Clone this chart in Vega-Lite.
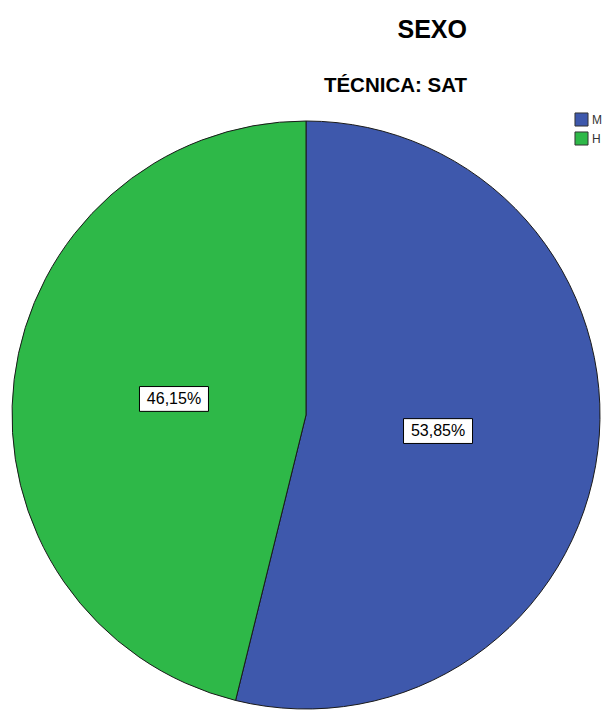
{
  "$schema": "https://vega.github.io/schema/vega-lite/v6.json",
  "width": 612,
  "height": 588,
  "autosize": {"type": "none"},
  "padding": {"left": 0, "top": 121, "right": 2, "bottom": 2},
  "background": "white",
  "view": {"stroke": null},
  "title": {
    "text": "SEXO",
    "subtitle": "TÉCNICA: SAT",
    "anchor": "middle",
    "align": "right",
    "dx": 161,
    "frame": "group",
    "font": "Liberation Sans",
    "fontSize": 25,
    "fontWeight": "bold",
    "color": "#000000",
    "subtitleFont": "Liberation Sans",
    "subtitleFontSize": 20.5,
    "subtitleFontWeight": "bold",
    "subtitleColor": "#000000",
    "subtitlePadding": 33,
    "offset": 16
  },
  "data": {
    "values": [
      {"sexo": "M", "pct": 53.85, "label": "53,85%", "orden": 1},
      {"sexo": "H", "pct": 46.15, "label": "46,15%", "orden": 2}
    ]
  },
  "transform": [
    {"window": [{"op": "sum", "field": "pct", "as": "cum"}], "sort": [{"field": "orden"}], "frame": [null, 0]},
    {"calculate": "(datum.cum - datum.pct/2)/100*2*PI", "as": "mid"},
    {"calculate": "133*sin(datum.mid)", "as": "lx"},
    {"calculate": "133*cos(datum.mid)", "as": "ly"}
  ],
  "layer": [
    {
      "mark": {"type": "arc", "outerRadius": 294, "stroke": "#1a1a1a", "strokeWidth": 1},
      "encoding": {
        "theta": {"field": "pct", "type": "quantitative", "stack": true},
        "order": {"field": "orden", "type": "quantitative"},
        "color": {
          "field": "sexo",
          "type": "nominal",
          "scale": {"domain": ["M", "H"], "range": ["#3E58AC", "#2EB848"]},
          "legend": {
            "title": null,
            "orient": "none",
            "legendX": 574,
            "legendY": -9,
            "symbolType": "square",
            "symbolSize": 170,
            "symbolStrokeColor": "#333333",
            "symbolStrokeWidth": 1,
            "symbolOpacity": 1,
            "labelFont": "Liberation Sans",
            "labelFontSize": 12,
            "labelColor": "#333333",
            "labelOffset": 3,
            "rowPadding": 0
          }
        }
      }
    },
    {
      "mark": {"type": "point", "shape": "M-1,-0.36L1,-0.36L1,0.36L-1,0.36Z", "size": 4761, "filled": true, "fill": "#ffffff", "stroke": "#000000", "strokeWidth": 1, "opacity": 1},
      "encoding": {
        "x": {"field": "lx", "type": "quantitative", "scale": {"domain": [-306, 306]}, "axis": null},
        "y": {"field": "ly", "type": "quantitative", "scale": {"domain": [-294, 294]}, "axis": null}
      }
    },
    {
      "mark": {"type": "text", "font": "Liberation Sans", "fontSize": 16, "color": "#000000"},
      "encoding": {
        "x": {"field": "lx", "type": "quantitative", "scale": {"domain": [-306, 306]}, "axis": null},
        "y": {"field": "ly", "type": "quantitative", "scale": {"domain": [-294, 294]}, "axis": null},
        "text": {"field": "label", "type": "nominal"}
      }
    }
  ]
}
